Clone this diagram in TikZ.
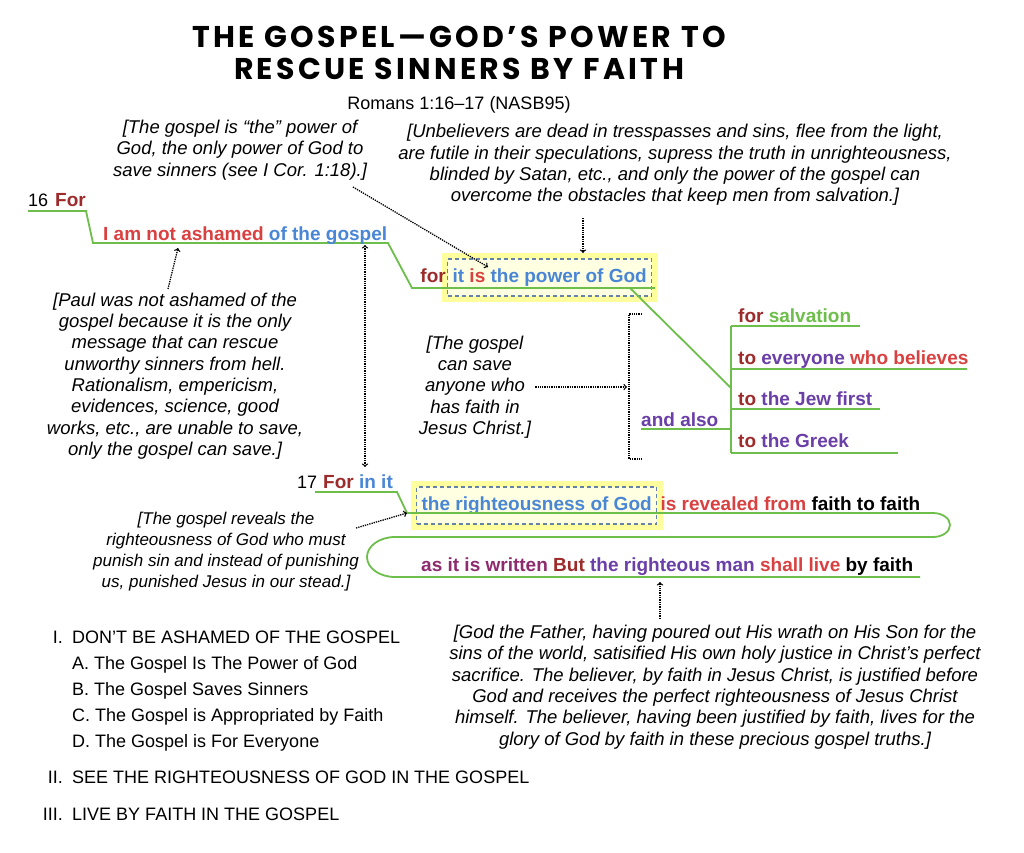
\documentclass[tikz,border=0pt]{standalone}
\usepackage{fontspec}
\setmainfont{Liberation Sans}
\newfontfamily\titlefont{Poppins}[LetterSpace=11]
\definecolor{dred}{HTML}{9E2B2B}
\definecolor{vred}{HTML}{D94141}
\definecolor{vblue}{HTML}{4A86D6}
\definecolor{vgreen}{HTML}{6DBE4B}
\definecolor{vpurple}{HTML}{6B3FA8}
\definecolor{vmagenta}{HTML}{8E2B6E}
\definecolor{hilite}{HTML}{FFFF9E}
\definecolor{boxedge}{HTML}{6482AA}
\tikzset{
  heading/.style={anchor=base, inner sep=0pt, font=\titlefont\bfseries\fontsize{30}{32}\selectfont},
  plain/.style={anchor=base west, inner sep=0pt, font=\fontsize{18}{22}\selectfont},
  verse/.style={anchor=base west, inner sep=0pt, font=\fontsize{19}{22}\selectfont\bfseries},
  hbox/.style={draw=boxedge, dash pattern=on 4pt off 3pt, line width=1.2pt, fill=hilite!30,
    preaction={draw=hilite, solid, line width=12pt},
    inner xsep=5pt, inner ysep=10pt, text height=13pt, text depth=4pt},
  note/.style={align=center, inner sep=0pt, font=\fontsize{18.5}{21.3}\selectfont\itshape},
  stem/.style={draw=vgreen, line width=1.8pt},
  pointer/.style={densely dotted, line width=1.3pt, ->},
}
\begin{document}
\begin{tikzpicture}[x=1pt,y=-1pt]
\useasboundingbox[fill=white] (0,0) rectangle (1024,852);
% title
\node[heading] (title1) at (459,47) {THE GOSPEL—GOD’S POWER TO};
\node[heading] (title2) at (459,79) {RESCUE SINNERS BY FAITH};
\node[plain, anchor=base] (romans) at (459,109) {Romans 1:16–17 (NASB95)};

% boxed phrases
\node[verse, hbox] (power) at (447,282) {\textcolor{vblue}{it} \textcolor{vred}{is} \textcolor{vblue}{the power of God}};
\node[verse, hbox] (righteous) at (416,510) {\textcolor{vblue}{the righteousness of God}};

% verse 16
\draw[stem] (28,211) -- (86,211) -- (93,243) -- (388,243) -- (412,288) -- (655,288);
\draw[stem] (630,288) -- (731,388);
\draw[stem] (731,326) -- (731,453);
\foreach \y/\x in {326/860, 369/967, 409/880, 453/898}
  \draw[stem] (731,\y) -- (\x,\y);
\draw[stem] (641,429) -- (731,429);
\node[plain] (v16) at (28,206) {16};
\node[verse] (for16) at (55,206) {\textcolor{dred}{For}};
\node[verse] (ashamed) at (103,240) {\textcolor{vred}{I am not ashamed} \textcolor{vblue}{of the gospel}};
\node[verse, anchor=base east] (forpower) at ([xshift=-1pt]power.base west) {\textcolor{dred}{for}};
\node[verse] (salvation) at (738,322) {\textcolor{dred}{for} \textcolor{vgreen}{salvation}};
\node[verse] (everyone) at (738,364) {\textcolor{dred}{to} \textcolor{vpurple}{everyone} \textcolor{vred}{who believes}};
\node[verse] (jew) at (738,405) {\textcolor{dred}{to} \textcolor{vpurple}{the Jew first}};
\node[verse] (andalso) at (641,426) {\textcolor{vpurple}{and also}};
\node[verse] (greek) at (738,447) {\textcolor{dred}{to} \textcolor{vpurple}{the Greek}};

% verse 17
\draw[stem] (315,492) -- (397,492) -- (407,513) -- (933,513)
  arc[start angle=90, end angle=-90, x radius=17pt, y radius=12pt] -- (395,537)
  arc[start angle=90, end angle=270, x radius=28pt, y radius=20pt] -- (920,577);
\node[plain] (v17) at (297,488) {17};
\node[verse] (for17) at (323,488) {\textcolor{dred}{For} \textcolor{vblue}{in it}};
\node[verse] (revealed) at ([xshift=3pt]righteous.base east) {\textcolor{vred}{is revealed from} faith to faith};
\node[verse] (written) at (421,571) {\textcolor{vmagenta}{as it is written} \textcolor{dred}{But} \textcolor{vpurple}{the righteous man} \textcolor{vred}{shall live} by faith};

% notes
\node[note] (onlypower) at (240,150) {[The gospel is “the” power of\\God, the only power of God to\\save sinners (see I Cor. 1:18).]};
\node[note] (unbelievers) at (675,165) {[Unbelievers are dead in tresspasses and sins, flee from the light,\\are futile in their speculations, supress the truth in unrighteousness,\\blinded by Satan, etc., and only the power of the gospel can\\overcome the obstacles that keep men from salvation.]};
\node[note] (paul) at (175,376) {[Paul was not ashamed of the\\gospel because it is the only\\message that can rescue\\unworthy sinners from hell.\\Rationalism, empericism,\\evidences, science, good\\works, etc., are unable to save,\\only the gospel can save.]};
\node[note] (anyone) at (475,387) {[The gospel\\can save\\anyone who\\has faith in\\Jesus Christ.]};
\node[note, font=\fontsize{17}{21}\selectfont\itshape] (reveals) at (226,552) {[The gospel reveals the\\righteousness of God who must\\punish sin and instead of punishing\\us, punished Jesus in our stead.]};
\node[note] (father) at (715,687) {[God the Father, having poured out His wrath on His Son for the\\sins of the world, satisified His own holy justice in Christ’s perfect\\sacrifice. The believer, by faith in Jesus Christ, is justified before\\God and receives the perfect righteousness of Jesus Christ\\himself. The believer, having been justified by faith, lives for the\\glory of God by faith in these precious gospel truths.]};

% pointers
\coordinate (onlypowertail) at (353,187);
\coordinate (itpoint) at (488,267);
\coordinate (unbeltail) at (583,218);
\coordinate (boxtop) at (583,253);
\coordinate (paultail) at (168,289);
\coordinate (ashamedpt) at (178,248);
\coordinate (gospelpt) at (365,245);
\coordinate (v17pt) at (365,467);
\coordinate (bracketpt) at (627,387);
\coordinate (revealtail) at (356,528);
\coordinate (bendpt) at (407,513);
\coordinate (fathertail) at (660,619);
\coordinate (faithpt) at (660,582);
\draw[pointer] (onlypowertail) -- (itpoint);
\draw[pointer] (unbeltail) -- (boxtop);
\draw[pointer] (paultail) -- (ashamedpt);
\draw[pointer, <->] (gospelpt) -- (v17pt);
\draw[pointer] ([xshift=4pt]anyone.east) -- (bracketpt);
\draw[pointer] (revealtail) -- (bendpt);
\draw[pointer] (fathertail) -- (faithpt);
\draw[densely dotted, line width=1.3pt] (642,314) -- (629,314) -- (629,459) -- (642,459);

% outline
\node[plain, anchor=base east] (o1n) at (63,643) {I.};
\node[plain] (o1) at (72,643) {DON’T BE ASHAMED OF THE GOSPEL};
\foreach \y/\t in {669/A. The Gospel Is The Power of God, 695/B. The Gospel Saves Sinners,
  721/C. The Gospel is Appropriated by Faith, 747/D. The Gospel is For Everyone}
  \node[plain] at (72,\y) {\t};
\node[plain, anchor=base east] (o2n) at (63,783) {II.};
\node[plain] (o2) at (72,783) {SEE THE RIGHTEOUSNESS OF GOD IN THE GOSPEL};
\node[plain, anchor=base east] (o3n) at (63,820) {III.};
\node[plain] (o3) at (72,820) {LIVE BY FAITH IN THE GOSPEL};
\end{tikzpicture}
\end{document}
